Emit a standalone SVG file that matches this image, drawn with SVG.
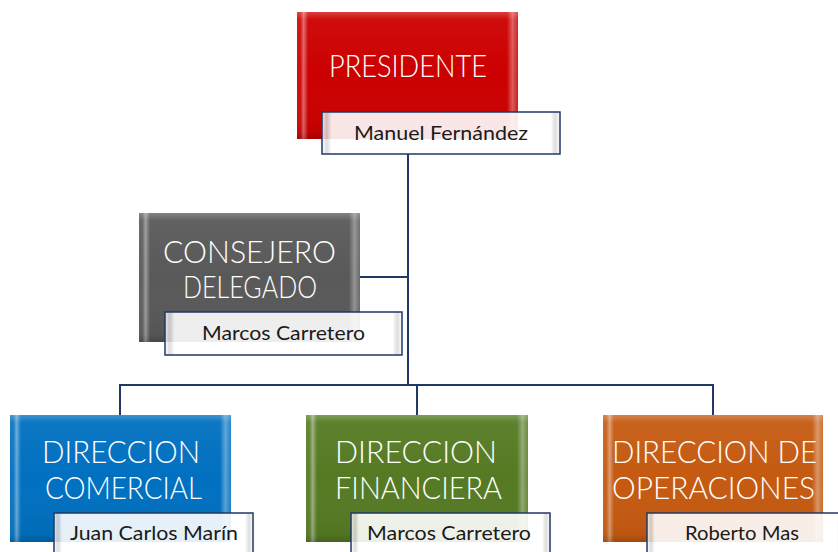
<svg xmlns="http://www.w3.org/2000/svg" width="838" height="552" viewBox="0 0 838 552">
<defs>
<linearGradient id="hGloss" x1="0" y1="0" x2="1" y2="0">
<stop offset="0" stop-color="#fff" stop-opacity="0.05"/>
<stop offset="0.015" stop-color="#fff" stop-opacity="0.05"/>
<stop offset="0.03" stop-color="#fff" stop-opacity="0.4"/>
<stop offset="0.05" stop-color="#fff" stop-opacity="0"/>
<stop offset="0.95" stop-color="#fff" stop-opacity="0"/>
<stop offset="0.975" stop-color="#fff" stop-opacity="0.35"/>
<stop offset="1" stop-color="#fff" stop-opacity="0.1"/>
</linearGradient>
<linearGradient id="vGloss" x1="0" y1="0" x2="0" y2="1">
<stop offset="0" stop-color="#fff" stop-opacity="0.25"/>
<stop offset="0.06" stop-color="#fff" stop-opacity="0.05"/>
<stop offset="0.5" stop-color="#fff" stop-opacity="0"/>
<stop offset="0.94" stop-color="#000" stop-opacity="0.05"/>
<stop offset="1" stop-color="#000" stop-opacity="0.2"/>
</linearGradient>
<linearGradient id="nameFill" x1="0" y1="0" x2="1" y2="0">
<stop offset="0" stop-color="#fff" stop-opacity="0.85"/>
<stop offset="0.02" stop-color="#d8d8d8" stop-opacity="0.85"/>
<stop offset="0.04" stop-color="#fff" stop-opacity="0.9"/>
<stop offset="0.96" stop-color="#fff" stop-opacity="0.9"/>
<stop offset="0.98" stop-color="#d8d8d8" stop-opacity="0.85"/>
<stop offset="1" stop-color="#fff" stop-opacity="0.85"/>
</linearGradient>
<style>
.conn{fill:none;stroke:#1F3864;stroke-width:2}
.gloss-h{fill:url(#hGloss)}
.gloss-v{fill:url(#vGloss)}
.title{font-family:Lato,"Liberation Sans","DejaVu Sans",sans-serif;font-weight:300;font-size:31px;fill:#ffffff;text-anchor:middle}
.name{fill:url(#nameFill);stroke:#1F3864;stroke-width:1.5}
.nametxt{font-family:Lato,"Liberation Sans","DejaVu Sans",sans-serif;font-size:20px;fill:#1a1a1a;text-anchor:middle}
</style>
</defs>
<rect width="838" height="552" fill="#ffffff"/>
<g id="connectors">
<path class="conn" d="M408 154 V385"/>
<path class="conn" d="M360 277 H408"/>
<path class="conn" d="M120 415 V385 H713 V415"/>
<path class="conn" d="M417 385 V415"/>
</g>
<g id="presidente">
<rect x="297" y="12" width="221" height="127" fill="#CC0000"/>
<rect x="297" y="12" width="221" height="127" class="gloss-h"/>
<rect x="297" y="12" width="221" height="127" class="gloss-v"/>
<text class="title" x="408" y="77" textLength="158" lengthAdjust="spacingAndGlyphs">PRESIDENTE</text>
<rect class="name" x="322" y="112" width="238" height="42"/>
<text class="nametxt" x="441" y="140" textLength="174" lengthAdjust="spacingAndGlyphs">Manuel Fernández</text>
</g>
<g id="consejero">
<rect x="139" y="213" width="221" height="129" fill="#595959"/>
<rect x="139" y="213" width="221" height="129" class="gloss-h"/>
<rect x="139" y="213" width="221" height="129" class="gloss-v"/>
<text class="title" x="249.5" y="263" font-size="34" textLength="173" lengthAdjust="spacingAndGlyphs">CONSEJERO</text>
<text class="title" x="250" y="298" font-size="34" textLength="134" lengthAdjust="spacingAndGlyphs">DELEGADO</text>
<rect class="name" x="165" y="312" width="237" height="43"/>
<text class="nametxt" x="283.5" y="340" textLength="163" lengthAdjust="spacingAndGlyphs">Marcos Carretero</text>
</g>
<g id="comercial">
<rect x="10" y="415" width="221" height="127" fill="#0070C0"/>
<rect x="10" y="415" width="221" height="127" class="gloss-h"/>
<rect x="10" y="415" width="221" height="127" class="gloss-v"/>
<text class="title" x="121" y="463" textLength="158" lengthAdjust="spacingAndGlyphs">DIRECCION</text>
<text class="title" x="123.5" y="499" textLength="157" lengthAdjust="spacingAndGlyphs">COMERCIAL</text>
<rect class="name" x="54" y="513" width="199" height="44"/>
<text class="nametxt" x="154" y="540" textLength="168" lengthAdjust="spacingAndGlyphs">Juan Carlos Marín</text>
</g>
<g id="financiera">
<rect x="306" y="415" width="222" height="127" fill="#557A23"/>
<rect x="306" y="415" width="222" height="127" class="gloss-h"/>
<rect x="306" y="415" width="222" height="127" class="gloss-v"/>
<text class="title" x="416" y="463" textLength="162" lengthAdjust="spacingAndGlyphs">DIRECCION</text>
<text class="title" x="418.5" y="499" textLength="167" lengthAdjust="spacingAndGlyphs">FINANCIERA</text>
<rect class="name" x="351" y="513" width="199" height="44"/>
<text class="nametxt" x="449" y="540" textLength="164" lengthAdjust="spacingAndGlyphs">Marcos Carretero</text>
</g>
<g id="operaciones">
<rect x="603" y="415" width="220" height="127" fill="#C55A11"/>
<rect x="603" y="415" width="220" height="127" class="gloss-h"/>
<rect x="603" y="415" width="220" height="127" class="gloss-v"/>
<text class="title" x="714.5" y="463" textLength="205" lengthAdjust="spacingAndGlyphs">DIRECCION DE</text>
<text class="title" x="713.5" y="499" textLength="203" lengthAdjust="spacingAndGlyphs">OPERACIONES</text>
<rect class="name" x="647" y="513" width="198" height="44"/>
<text class="nametxt" x="742" y="540" textLength="114" lengthAdjust="spacingAndGlyphs">Roberto Mas</text>
</g>
</svg>
